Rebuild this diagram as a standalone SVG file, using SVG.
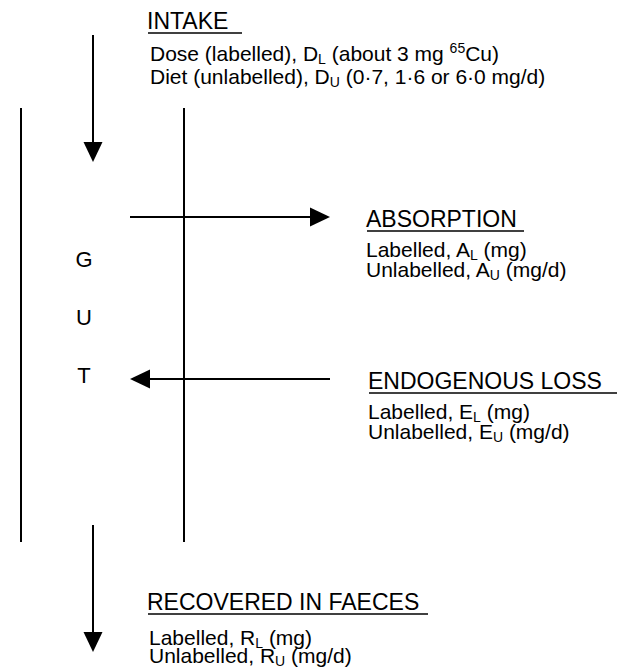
<svg xmlns="http://www.w3.org/2000/svg" width="623" height="668" viewBox="0 0 623 668">
<style>
text{font-family:"Liberation Sans",Arial,Helvetica,sans-serif;fill:#000}
.h{font-size:23px}
.b{font-size:21px}
.s{font-size:14px}
.g{font-size:22px}
.ln{stroke:#000;stroke-width:2;fill:none}
.ul{stroke:#000;stroke-width:1.5}
</style>
<defs>
<marker id="ah" viewBox="0 0 20 20" refX="10" refY="10" markerWidth="20" markerHeight="20" markerUnits="userSpaceOnUse" orient="auto">
<path d="M0,0.5 L20,10 L0,19.5 Z" fill="#000"/>
</marker>
</defs>
<rect width="623" height="668" fill="#fff"/>
<g id="gut">
<line class="ln" x1="21" y1="108" x2="21" y2="542"/>
<line class="ln" x1="184" y1="108" x2="184" y2="542"/>
<text class="g" x="84" y="267" text-anchor="middle">G</text>
<text class="g" x="84" y="325" text-anchor="middle">U</text>
<text class="g" x="84" y="383" text-anchor="middle">T</text>
</g>
<g id="connectors">
<line class="ln" x1="93" y1="35" x2="93" y2="152" marker-end="url(#ah)"/>
<line class="ln" x1="130" y1="217" x2="320" y2="217" marker-end="url(#ah)"/>
<line class="ln" x1="330" y1="379" x2="140" y2="379" marker-end="url(#ah)"/>
<line class="ln" x1="93" y1="525" x2="93" y2="642" marker-end="url(#ah)"/>
</g>
<g id="intake">
<text class="h" x="147" y="29">INTAKE</text>
<line class="ul" x1="148" y1="33" x2="242" y2="33"/>
<text class="b" x="150" y="61">Dose (labelled), D<tspan class="s" dy="3">L</tspan><tspan dy="-3"> (about 3 mg </tspan><tspan class="s" dy="-8">65</tspan><tspan dy="8">Cu)</tspan></text>
<text class="b" x="150" y="84">Diet (unlabelled), D<tspan class="s" dy="3">U</tspan><tspan dy="-3"> (0·7, 1·6 or 6·0 mg/d)</tspan></text>
</g>
<g id="absorption">
<text class="h" x="366" y="227">ABSORPTION</text>
<line class="ul" x1="367" y1="231" x2="524" y2="231"/>
<text class="b" x="366" y="257">Labelled, A<tspan class="s" dy="3">L</tspan><tspan dy="-3"> (mg)</tspan></text>
<text class="b" x="366" y="277">Unlabelled, A<tspan class="s" dy="3">U</tspan><tspan dy="-3"> (mg/d)</tspan></text>
</g>
<g id="endogenous">
<text class="h" x="368" y="389">ENDOGENOUS LOSS</text>
<line class="ul" x1="369" y1="393" x2="617" y2="393"/>
<text class="b" x="368" y="419">Labelled, E<tspan class="s" dy="3">L</tspan><tspan dy="-3"> (mg)</tspan></text>
<text class="b" x="368" y="439">Unlabelled, E<tspan class="s" dy="3">U</tspan><tspan dy="-3"> (mg/d)</tspan></text>
</g>
<g id="faeces">
<text class="h" x="147" y="610">RECOVERED IN FAECES</text>
<line class="ul" x1="148" y1="614" x2="428" y2="614"/>
<text class="b" x="149" y="645">Labelled, R<tspan class="s" dy="3">L</tspan><tspan dy="-3"> (mg)</tspan></text>
<text class="b" x="149" y="663">Unlabelled, R<tspan class="s" dy="3">U</tspan><tspan dy="-3"> (mg/d)</tspan></text>
</g>
</svg>
